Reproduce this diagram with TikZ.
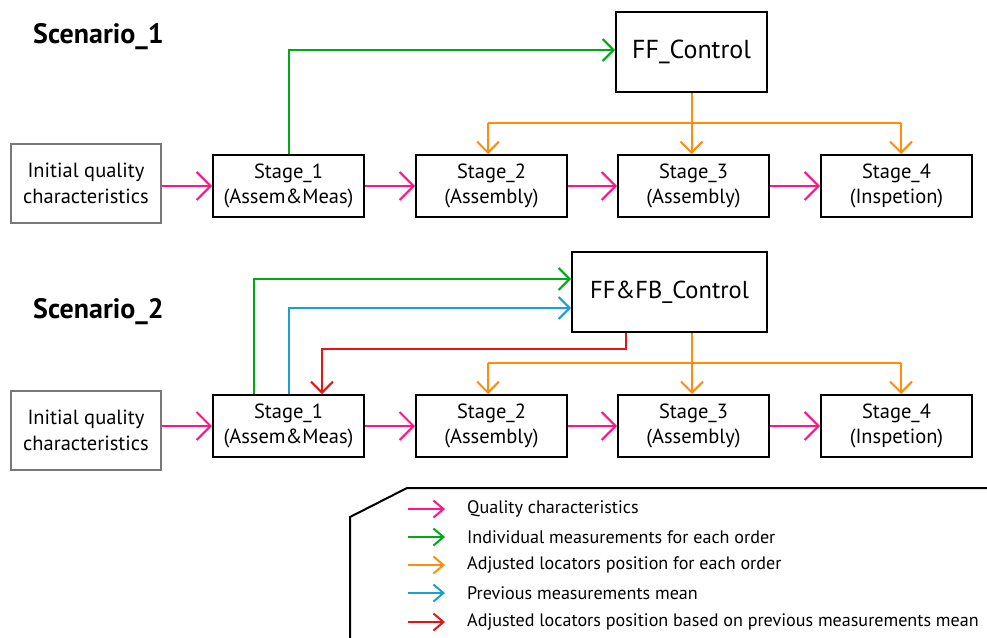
\documentclass[tikz,border=0pt]{standalone}
\usepackage{fontspec}
\setmainfont{PT Sans}
\usetikzlibrary{arrows.meta}

\definecolor{qpink}{RGB}{255,20,140}
\definecolor{mgreen}{RGB}{0,170,20}
\definecolor{aorange}{RGB}{255,140,10}
\definecolor{pblue}{RGB}{25,160,215}
\definecolor{fred}{RGB}{232,20,20}
\definecolor{ingray}{RGB}{120,120,120}

\tikzset{
  stagebox/.style={draw=black, line width=2pt, minimum width=151pt, minimum height=62pt,
    inner sep=0pt, align=center, font=\fontsize{20.5}{25}\selectfont},
  inputbox/.style={draw=ingray, line width=1.4pt, minimum width=150pt, minimum height=79pt,
    inner sep=0pt, align=center, font=\fontsize{20.5}{25.5}\selectfont},
  ctrlbox/.style={draw=black, line width=2pt, minimum height=80pt,
    inner sep=0pt, font=\fontsize{24.5}{28}\selectfont},
  title/.style={font=\fontsize{28}{32}\selectfont\bfseries, anchor=west, inner sep=0pt},
  flow/.style={line width=2pt, -{Straight Barb[length=14pt,width=28pt,line width=2pt]}},
  link/.style={line width=2pt, -{Straight Barb[length=11pt,width=22pt,line width=2pt]}},
  wire/.style={line width=2pt},
  keyarrow/.style={line width=2pt, -{Straight Barb[length=10pt,width=17pt,line width=2pt]}},
  keytext/.style={anchor=west, inner sep=0pt, font=\fontsize{18.1}{21}\selectfont},
}

\begin{document}
\begin{tikzpicture}[x=1pt, y=-1pt]
\useasboundingbox (0,0) rectangle (987,637);

% ---------------- Scenario 1 ----------------
\node[title] (t1) at (33,37) {Scenario\_1};
\node[inputbox] (in1) at (86,183.5) {Initial quality\\characteristics};
\node[stagebox] (s11) at (288.5,186) {Stage\_1\\(Assem\&Meas)};
\node[stagebox] (s12) at (491.5,186) {Stage\_2\\(Assembly)};
\node[stagebox] (s13) at (693.5,186) {Stage\_3\\(Assembly)};
\node[stagebox] (s14) at (896.5,186) {Stage\_4\\(Inspetion)};
\node[ctrlbox, minimum width=151pt, font=\fontsize{26}{30}\selectfont] (ff1) at (691.5,52) {FF\_Control};

\draw[flow, qpink] (in1.east |- s11.west) -- (s11.west);
\draw[flow, qpink] (s11.east) -- (s12.west);
\draw[flow, qpink] (s12.east) -- (s13.west);
\draw[flow, qpink] (s13.east) -- (s14.west);

\coordinate (g1) at (288.5,50);
\draw[link, mgreen] (s11.north) -- (g1) -- (g1 -| ff1.west);

\coordinate (o1L) at (488,123);
\coordinate (o1R) at (901,123);
\draw[link, aorange] (ff1.south) -- (ff1.south |- s13.north);
\draw[wire, aorange] (o1L) -- (o1R);
\draw[link, aorange] (o1L) -- (o1L |- s12.north);
\draw[link, aorange] (o1R) -- (o1R |- s14.north);

% ---------------- Scenario 2 ----------------
\node[title] (t2) at (33,312) {Scenario\_2};
\node[inputbox] (in2) at (86,430.5) {Initial quality\\characteristics};
\node[stagebox] (s21) at (288.5,426) {Stage\_1\\(Assem\&Meas)};
\node[stagebox] (s22) at (491.5,426) {Stage\_2\\(Assembly)};
\node[stagebox] (s23) at (693.5,426) {Stage\_3\\(Assembly)};
\node[stagebox] (s24) at (896.5,426) {Stage\_4\\(Inspetion)};
\node[ctrlbox, minimum width=195pt] (ff2) at (669.5,292) {FF\&FB\_Control};

\draw[flow, qpink] (in2.east |- s21.west) -- (s21.west);
\draw[flow, qpink] (s21.east) -- (s22.west);
\draw[flow, qpink] (s22.east) -- (s23.west);
\draw[flow, qpink] (s23.east) -- (s24.west);

\coordinate (g2) at (254,279);
\draw[link, mgreen] (s21.north -| g2) -- (g2) -- (g2 -| ff2.west);

\coordinate (b2) at (288.5,308);
\draw[link, pblue] (s21.north) -- (b2) -- (b2 -| ff2.west);

\coordinate (r2a) at (626,349);
\coordinate (r2b) at (322,349);
\draw[link, fred] (r2a |- ff2.south) -- (r2a) -- (r2b) -- (r2b |- s21.north);

\coordinate (o2T) at (692,363);
\coordinate (o2L) at (488,363);
\coordinate (o2R) at (901,363);
\draw[link, aorange] (o2T |- ff2.south) -- (o2T |- s23.north);
\draw[wire, aorange] (o2L) -- (o2R);
\draw[link, aorange] (o2L) -- (o2L |- s22.north);
\draw[link, aorange] (o2R) -- (o2R |- s24.north);

% ---------------- Legend ----------------
\draw[line width=2pt, line join=miter] (988,488) -- (407,488) -- (350,517) -- (350,638);

\foreach \yy/\cc/\tt [count=\i] in {
  509/qpink/Quality characteristics,
  537/mgreen/Individual measurements for each order,
  565/aorange/Adjusted locators position for each order,
  593/pblue/Previous measurements mean,
  622/fred/Adjusted locators position based on previous measurements mean}{
  \coordinate (ka\i) at (408,\yy);
  \coordinate (kb\i) at (445,\yy);
  \draw[keyarrow, \cc] (ka\i) -- (kb\i);
  \node[keytext] (kt\i) at (467,\yy) {\tt};
}
\end{tikzpicture}
\end{document}
